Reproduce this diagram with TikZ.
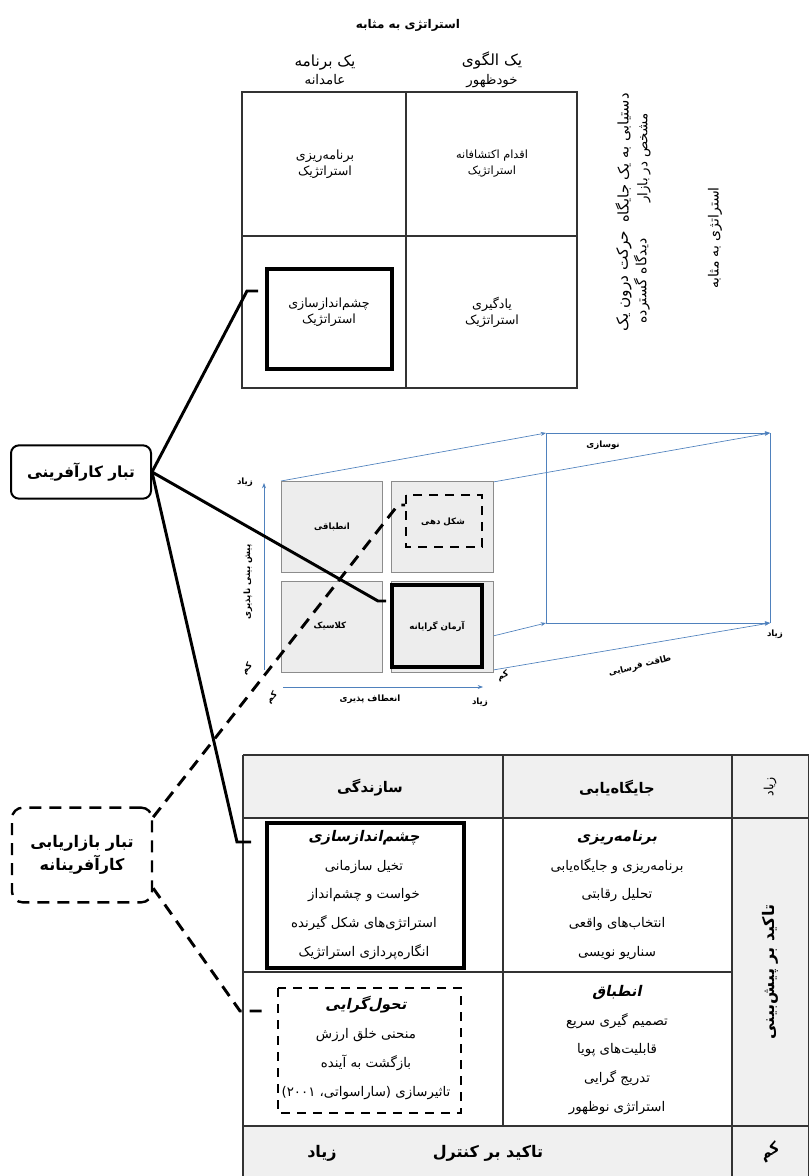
\documentclass[tikz,border=0pt]{standalone}
\usepackage{fontspec}
\usetikzlibrary{arrows.meta}
\newfontfamily\farsi[Script=Arabic]{DejaVu Sans}
\newfontfamily\farsisl[Script=Arabic,FakeSlant=0.2]{DejaVu Sans}
\TeXXeTstate=1
\newcommand{\fa}[1]{\beginR #1\endR}
\definecolor{axisblue}{HTML}{4F81BD}
\definecolor{cellgray}{HTML}{F0F0F0}
\definecolor{sqgray}{HTML}{EDEDED}

\begin{document}
\begin{tikzpicture}[x=0.75pt,y=-0.75pt,
    fatxt/.style={font=\farsi\fontsize{9.5}{12}\selectfont, align=center, inner sep=1pt},
    fahead/.style={font=\farsi\bfseries\fontsize{11}{13}\selectfont, align=center, inner sep=1pt},
    falist/.style={font=\farsi\fontsize{10}{21.6}\selectfont, align=center, inner sep=1pt},
    cubetxt/.style={font=\farsi\bfseries\fontsize{6.5}{8}\selectfont, inner sep=1pt},
    grid/.style={draw=black!80, line width=1pt},
    heavybox/.style={draw=black, line width=2.6pt},
    dashbox/.style={draw=black, line width=2.2pt, dash pattern=on 7pt off 5pt},
    axis/.style={draw=axisblue, line width=0.5pt, -{Stealth[length=4pt,width=3pt]}},
    plane/.style={draw=axisblue, line width=0.5pt},
    sq/.style={draw=black!45, fill=sqgray, line width=0.6pt},
    link/.style={draw=black, line width=2.2pt},
    dashlink/.style={draw=black, line width=2.2pt, dash pattern=on 9pt off 6pt}]
    \useasboundingbox (0,0) rectangle (809,1176);

    % top matrix
    \draw[grid] (242,92) rectangle (577,388);
    \draw[grid] (406,92) -- (406,388);
    \draw[grid] (242,236) -- (577,236);
    \draw[heavybox] (267,269) rectangle (392,369);

    \node[fatxt, font=\farsi\bfseries\fontsize{9}{11}\selectfont] (title) at (408,25) {\fa{استراتژی به مثابه}};
    \node[fatxt, font=\farsi\fontsize{10}{14}\selectfont] (plan) at (325,70) {{\fontsize{11.5}{14}\selectfont\fa{یک برنامه}}\\\fa{عامدانه}};
    \node[fatxt, font=\farsi\fontsize{10}{14}\selectfont] (pattern) at (492,70) {{\fontsize{11.5}{14}\selectfont\fa{یک الگوی}}\\\fa{خودظهور}};
    \node[fatxt] (planning) at (325,164) {\fa{برنامه‌ریزی}\\\fa{استراتژیک}};
    \node[fatxt, font=\farsi\fontsize{8.5}{12}\selectfont] (explore) at (492,164) {\fa{اقدام اکتشافانه}\\\fa{استراتژیک}};
    \node[fatxt] (vision) at (329,312) {\fa{چشم‌اندازسازی}\\\fa{استراتژیک}};
    \node[fatxt] (learning) at (492,312) {\fa{یادگیری}\\\fa{استراتژیک}};
    \node[fatxt, rotate=90, font=\farsi\fontsize{11}{14}\selectfont] (position) at (633,158) {\fa{دستیابی به یک جایگاه}\\{\fontsize{10}{14}\selectfont\fa{مشخص در بازار}}};
    \node[fatxt, rotate=90, font=\farsi\fontsize{11.5}{14}\selectfont] (perspective) at (633,281) {\fa{حرکت درون یک}\\{\fontsize{10.5}{14}\selectfont\fa{دیدگاه گسترده}}};
    \node[fatxt, rotate=90, font=\farsi\fontsize{10.5}{12}\selectfont] (sideTitle) at (715,238) {\fa{استراتژی به مثابه}};

    % cube: axes and back plane
    \draw[axis] (493,482) -- (770,433);
    \draw[axis] (493,636) -- (546,623);
    \draw[axis] (493,670) -- (770,623);
    \draw[axis] (281,481) -- (546,433);
    \draw[axis] (546,433) -- (770,433);
    \draw[axis] (546,623) -- (770,623);
    \draw[plane] (546,433) -- (546,623);
    \draw[plane] (770,433) -- (770,623);
    \draw[axis] (264,670) -- (264,483);
    \draw[axis] (283,687) -- (483,687);

    % cube: front squares
    \draw[sq] (281,481) rectangle (382,572);
    \draw[sq] (391,481) rectangle (493,572);
    \draw[sq] (281,581) rectangle (382,672);
    \draw[sq] (391,581) rectangle (493,672);
    \draw[heavybox] (392,585) rectangle (482,667);
    \draw[dashbox] (406,495) rectangle (482,547);

    \node[cubetxt] (adapt) at (332,527) {\fa{انطباقی}};
    \node[cubetxt] (shaping) at (443,522) {\fa{شکل دهی}};
    \node[cubetxt] (classic) at (330,626) {\fa{کلاسیک}};
    \node[cubetxt] (visionary) at (437,626) {\fa{آرمان گرایانه}};
    \node[cubetxt] (yHigh) at (245,482) {زیاد};
    \node[cubetxt, rotate=50] (yLow) at (247,669) {کم};
    \node[cubetxt, rotate=90] (yLabel) at (248,582) {\fa{پیش بینی ناپذیری}};
    \node[cubetxt, rotate=45] (xLow) at (272,698) {کم};
    \node[cubetxt] (xLabel) at (370,699) {\fa{انعطاف پذیری}};
    \node[cubetxt] (xHigh) at (480,702) {زیاد};
    \node[cubetxt] (renewal) at (603,445) {\fa{نوسازی}};
    \node[cubetxt] (zHigh) at (775,634) {زیاد};
    \node[cubetxt, rotate=25] (zLow) at (503,676) {کم};
    \node[cubetxt, rotate=14] (zLabel) at (640,666) {\fa{طاقت فرسایی}};

    % bottom table
    \fill[cellgray] (243,755) rectangle (809,818);
    \fill[cellgray] (243,1126) rectangle (809,1176);
    \fill[cellgray] (732,755) rectangle (809,1176);
    \draw[grid] (243,755) -- (809,755);
    \draw[grid] (243,818) -- (809,818);
    \draw[grid] (243,972) -- (732,972);
    \draw[grid] (243,1126) -- (809,1126);
    \draw[grid] (243,755) -- (243,1176);
    \draw[grid] (503,755) -- (503,1126);
    \draw[grid] (732,755) -- (732,1176);
    \draw[grid] (808.5,755) -- (808.5,1176);
    \draw[heavybox] (267,823) rectangle (464,968);
    \draw[dashbox] (278,988) rectangle (461,1113);

    \node[fahead] (build) at (370,788) {\fa{سازندگی}};
    \node[fahead] (posit) at (617,788) {\fa{جایگاه‌یابی}};
    \node[fatxt, rotate=90] (tHigh) at (770,787) {زیاد};
    \node[falist] (visionList) at (364,895) {{\farsisl\bfseries\fontsize{11}{21.6}\selectfont\fa{چشم‌اندازسازی}}\\\fa{تخیل سازمانی}\\\fa{خواست و چشم‌انداز}\\\fa{استراتژی‌های شکل گیرنده}\\\fa{انگاره‌پردازی استراتژیک}};
    \node[falist] (planList) at (617,895) {{\farsisl\bfseries\fontsize{11}{21.6}\selectfont\fa{برنامه‌ریزی}}\\\fa{برنامه‌ریزی و جایگاه‌یابی}\\\fa{تحلیل رقابتی}\\\fa{انتخاب‌های واقعی}\\\fa{سناریو نویسی}};
    \node[falist] (transList) at (366,1048) {{\farsisl\bfseries\fontsize{11}{21.6}\selectfont\fa{تحول‌گرایی}}\\\fa{منحنی خلق ارزش}\\\fa{بازگشت به آینده}\\\fa{تاثیرسازی (ساراسواتی، \beginL۲۰۰۱\endL)}};
    \node[falist] (adaptList) at (617,1050) {{\farsisl\bfseries\fontsize{11}{21.6}\selectfont\fa{انطباق}}\\\fa{تصمیم گیری سریع}\\\fa{قابلیت‌های پویا}\\\fa{تدریج گرایی}\\\fa{استراتژی نوظهور}};
    \node[fahead, rotate=90, font=\farsi\bfseries\fontsize{12}{14}\selectfont] (predict) at (770,972) {\fa{تاکید بر پیش‌بینی}};
    \node[fahead, font=\farsi\bfseries\fontsize{12}{14}\selectfont] (control) at (488,1153) {\fa{تاکید بر کنترل}};
    \node[fahead, font=\farsi\bfseries\fontsize{12}{14}\selectfont] (cHigh) at (322,1153) {زیاد};
    \node[fahead, rotate=30] (cLow) at (770,1152) {کم};

    % lineages
    \node[draw, line width=1.5pt, rounded corners=6pt, minimum width=105pt, minimum height=40pt,
          font=\farsi\bfseries\fontsize{11.5}{13}\selectfont] (entre) at (81,472) {\fa{تبار کارآفرینی}};
    \node[draw, line width=1.8pt, rounded corners=8pt, dash pattern=on 9pt off 6pt,
          minimum width=105pt, minimum height=71pt, align=center,
          font=\farsi\bfseries\fontsize{12}{17}\selectfont] (mkt) at (82,855) {\fa{تبار بازاریابی}\\\fa{کارآفرینانه}};

    \coordinate (h1a) at (247,291);
    \coordinate (h1b) at (258,291);
    \coordinate (h2a) at (378,601);
    \coordinate (h2b) at (386,601);
    \coordinate (h3a) at (237,842);
    \coordinate (h3b) at (251,842);
    \coordinate (d1a) at (398,505);
    \coordinate (d1b) at (405,505);
    \coordinate (d2a) at (240,1011);
    \coordinate (d2b) at (264,1011);

    \draw[link] (entre.east) -- (h1a) -- (h1b);
    \draw[link] (entre.east) -- (h2a) -- (h2b);
    \draw[link] (entre.east) -- (h3a) -- (h3b);
    \draw[dashlink] (mkt.28) -- (d1a) -- (d1b);
    \draw[dashlink] (mkt.-25) -- (d2a) -- (d2b);

\end{tikzpicture}
\end{document}
